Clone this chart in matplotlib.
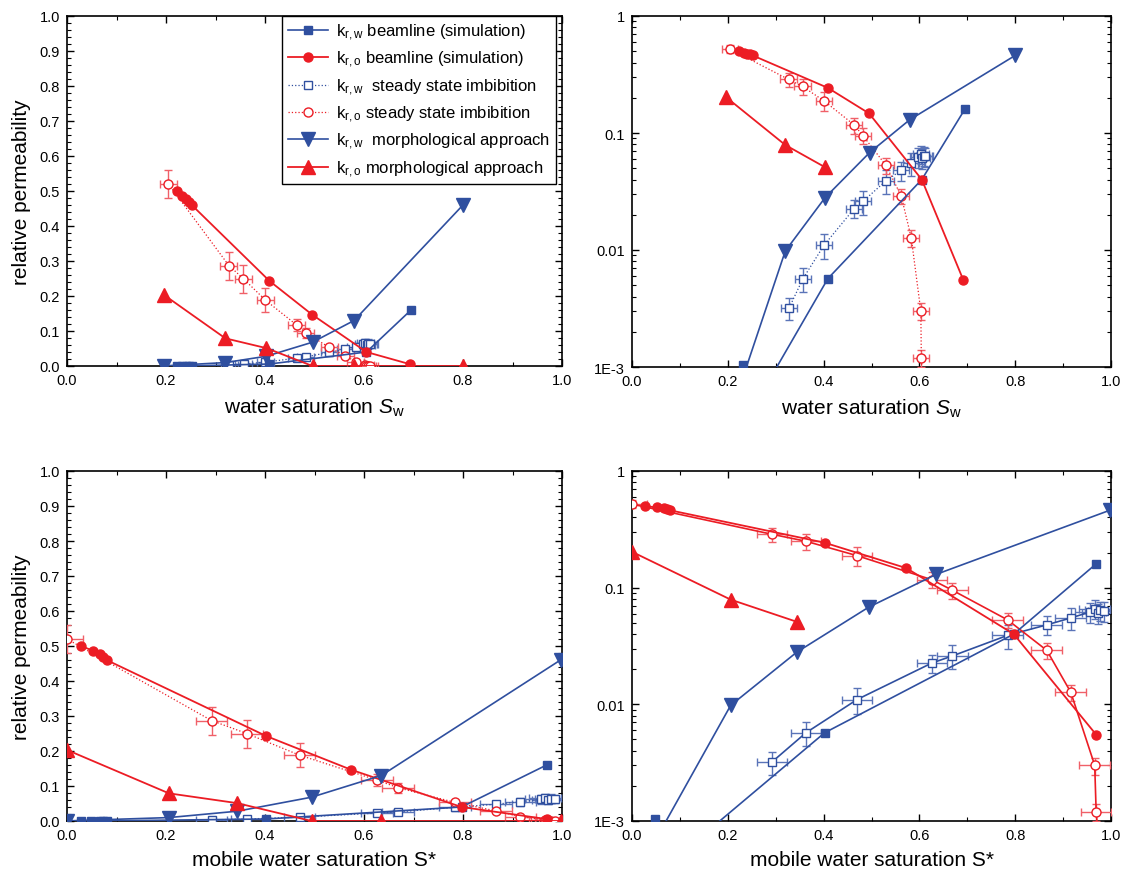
import matplotlib
matplotlib.use("Agg")
import matplotlib.pyplot as plt
from matplotlib.ticker import MultipleLocator, LogLocator, NullFormatter, FormatStrFormatter

plt.rcParams['font.family'] = ['Liberation Sans', 'DejaVu Sans']
plt.rcParams['mathtext.fontset'] = 'custom'
plt.rcParams['mathtext.rm'] = 'Liberation Sans'
plt.rcParams['mathtext.it'] = 'Liberation Sans:italic'

BLUE = '#2f4f9f'
RED = '#ec1c24'

labels = [r'k$_{\rm r,w}$ beamline (simulation)',
          r'k$_{\rm r,o}$ beamline (simulation)',
          r'k$_{\rm r,w}$  steady state imbibition',
          r'k$_{\rm r,o}$ steady state imbibition',
          r'k$_{\rm r,w}$  morphological approach',
          r'k$_{\rm r,o}$ morphological approach']

# beamline simulation, k_r,w
sw_bl_w = [0.223, 0.232, 0.240, 0.247, 0.252, 0.409, 0.605, 0.695]
ss_bl_w = [0.028, 0.049, 0.066, 0.073, 0.080, 0.402, 0.797, 0.969]
kr_bl_w = [0.0002, 0.00105, 0.0003, 0.0004, 0.00044, 0.0057, 0.040, 0.160]

# beamline simulation, k_r,o
sw_bl_o = [0.223, 0.233, 0.240, 0.247, 0.252, 0.409, 0.495, 0.605, 0.692]
ss_bl_o = [0.028, 0.052, 0.066, 0.073, 0.080, 0.402, 0.573, 0.797, 0.969]
kr_bl_o = [0.50, 0.487, 0.478, 0.47, 0.46, 0.243, 0.147, 0.040, 0.0055]

# steady state imbibition, k_r,w
sw_ss_w = [0.328, 0.357, 0.401, 0.464, 0.482, 0.530, 0.562, 0.583, 0.598, 0.603, 0.606, 0.609, 0.612]
ss_ss_w = [0.292, 0.363, 0.470, 0.626, 0.669, 0.784, 0.866, 0.916, 0.957, 0.966, 0.972, 0.978, 0.985]
kr_ss_w = [0.0032, 0.0057, 0.011, 0.0226, 0.026, 0.039, 0.048, 0.055, 0.062, 0.066, 0.061, 0.064, 0.063]
yerr_ss_w = [0.0007, 0.0013, 0.0027, 0.004, 0.006, 0.009, 0.009, 0.012, 0.012, 0.012, 0.012, 0.012, 0.012]

# steady state imbibition, k_r,o
sw_ss_o = [0.205, 0.327, 0.356, 0.401, 0.464, 0.482, 0.530, 0.562, 0.583, 0.603, 0.604, 0.608, 0.612]
ss_ss_o = [0.0, 0.292, 0.363, 0.470, 0.626, 0.669, 0.784, 0.866, 0.916, 0.966, 0.969, 0.977, 0.985]
kr_ss_o = [0.52, 0.287, 0.25, 0.188, 0.117, 0.095, 0.053, 0.029, 0.0127, 0.0030, 0.0012, 0.0005, 0.0003]
yerr_ss_o = [0.04, 0.04, 0.04, 0.035, 0.018, 0.015, 0.008, 0.0045, 0.002, 0.0005, 0.0002, 0.0001, 0.0001]

xerr_sw = [0.017, 0.017, 0.017, 0.017, 0.017, 0.017, 0.017, 0.017, 0.017, 0.017, 0.017, 0.017, 0.017]
xerr_ss = [0.032, 0.032, 0.032, 0.032, 0.032, 0.032, 0.032, 0.032, 0.032, 0.032, 0.032, 0.032, 0.032]

# morphological approach
sw_mo = [0.196, 0.32, 0.403, 0.496, 0.58, 0.80]
ss_mo = [0.0, 0.206, 0.344, 0.494, 0.635, 0.997]
kr_mo_w = [0.0003, 0.0098, 0.028, 0.068, 0.13, 0.46]
kr_mo_o = [0.203, 0.079, 0.051, 0.0, 0.0, 0.0]


def pos(v):
    return [y if y > 0 else float('nan') for y in v]


def panel(ax, mobile, log):
    if mobile:
        xbw, xbo, xsw, xso, xm, xe = ss_bl_w, ss_bl_o, ss_ss_w, ss_ss_o, ss_mo, xerr_ss
    else:
        xbw, xbo, xsw, xso, xm, xe = sw_bl_w, sw_bl_o, sw_ss_w, sw_ss_o, sw_mo, xerr_sw
    mo_o = pos(kr_mo_o) if log else kr_mo_o
    ls_ss = '-' if (mobile and log) else ':'
    lw_ss = 1.2 if (mobile and log) else 0.9

    h = []
    h.append(ax.plot(xbw, kr_bl_w, '-s', color=BLUE, lw=1.2, ms=5.5, zorder=4)[0])
    h.append(ax.plot(xbo, kr_bl_o, '-o', color=RED, lw=1.3, ms=6.5, zorder=4)[0])
    e = ax.errorbar(xsw, kr_ss_w, yerr=yerr_ss_w, xerr=xe, fmt='s', ls=ls_ss, lw=lw_ss, color=BLUE,
                    mfc='white', mec=BLUE, ms=5.5, ecolor='#5a74b8', elinewidth=1.0, capsize=3,
                    zorder=3)
    h.append(e[0])
    e = ax.errorbar(xso, kr_ss_o, yerr=yerr_ss_o, xerr=xe, fmt='o', ls=ls_ss, lw=lw_ss, color=RED,
                    mfc='white', mec=RED, ms=6.5, ecolor='#f06068', elinewidth=1.0, capsize=3,
                    zorder=3)
    h.append(e[0])
    h.append(ax.plot(xm, kr_mo_w, '-v', color=BLUE, lw=1.2, ms=10, zorder=5)[0])
    h.append(ax.plot(xm, mo_o, '-^', color=RED, lw=1.3, ms=10, zorder=5)[0])

    ax.set_xlim(0, 1)
    ax.xaxis.set_major_locator(MultipleLocator(0.2))
    ax.xaxis.set_minor_locator(MultipleLocator(0.1))
    ax.xaxis.set_major_formatter(FormatStrFormatter('%.1f'))
    if log:
        ax.set_yscale('log')
        ax.set_ylim(1e-3, 1)
        ax.set_yticks([1e-3, 1e-2, 1e-1, 1])
        ax.set_yticklabels(['1E-3', '0.01', '0.1', '1'])
        ax.yaxis.set_minor_locator(LogLocator(base=10, subs=range(2, 10)))
        ax.yaxis.set_minor_formatter(NullFormatter())
    else:
        ax.set_ylim(0, 1)
        ax.yaxis.set_major_locator(MultipleLocator(0.1))
        ax.yaxis.set_minor_locator(MultipleLocator(0.02))
        ax.yaxis.set_major_formatter(FormatStrFormatter('%.1f'))
        ax.set_ylabel('relative permeability', fontsize=15, labelpad=6)
    ax.tick_params(which='both', direction='in', top=True, right=True, labelsize=10.5, pad=5)
    ax.tick_params(which='major', length=5, width=1)
    ax.tick_params(which='minor', length=3, width=0.8)
    for s in ax.spines.values():
        s.set_linewidth(1.2)
    if mobile:
        ax.set_xlabel('mobile water saturation S*', fontsize=15, labelpad=6)
    else:
        ax.set_xlabel(r'water saturation $S_{\rm w}$', fontsize=15, labelpad=6)
    return h


fig = plt.figure(figsize=(11.39, 8.78), dpi=100)
ax_tl = fig.add_axes([67 / 1139, (878 - 367) / 878, 495 / 1139, 350 / 878])
ax_tr = fig.add_axes([632 / 1139, (878 - 368) / 878, 479 / 1139, 351 / 878])
ax_bl = fig.add_axes([67 / 1139, (878 - 822) / 878, 495 / 1139, 350 / 878])
ax_br = fig.add_axes([632 / 1139, (878 - 822) / 878, 479 / 1139, 350 / 878])

handles = panel(ax_tl, False, False)
panel(ax_tr, False, True)
panel(ax_bl, True, False)
panel(ax_br, True, True)

leg = ax_tl.legend(handles, labels, loc='upper right', bbox_to_anchor=(1 - 6 / 495, 1.0),
                   borderaxespad=0, fontsize=12, handlelength=2.4, labelspacing=0.42,
                   borderpad=0.35, handletextpad=0.5, fancybox=False, edgecolor='black',
                   framealpha=1)
leg.get_frame().set_linewidth(1.0)

fig.savefig('out.png', dpi=100)
